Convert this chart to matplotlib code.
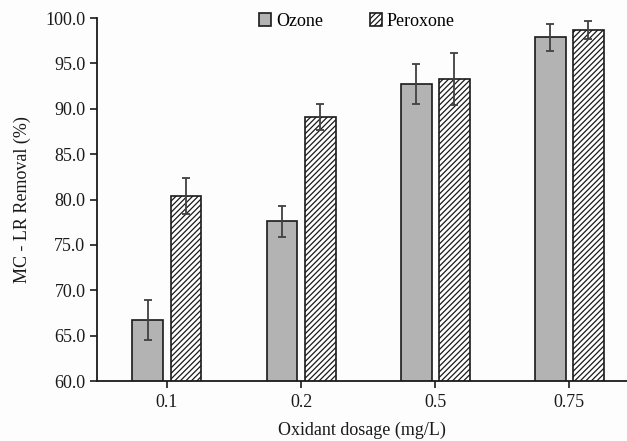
import numpy as np
import matplotlib
matplotlib.use('Agg')
from matplotlib import pyplot as plt

dosage = ['0.1', '0.2', '0.5', '0.75']
ozone = [66.7, 77.6, 92.7, 97.9]
ozone_err = [2.2, 1.7, 2.2, 1.5]
peroxone = [80.4, 89.1, 93.3, 98.7]
peroxone_err = [2.0, 1.4, 2.9, 1.0]

plt.rcParams['font.family'] = ['Liberation Serif', 'DejaVu Serif']
plt.rcParams['hatch.linewidth'] = 0.9

fig = plt.figure(figsize=(6.27, 4.41), dpi=100)
fig.patch.set_facecolor('#fdfdfd')
ax = fig.add_axes([0.155, 0.136, 0.845, 0.823])
ax.set_facecolor('#fdfdfd')

x = np.arange(len(dosage))
w = 0.23
err_kw = dict(ecolor='#404040', elinewidth=1.3, capsize=3, capthick=1.3)
ax.bar(x - 0.142, ozone, w, yerr=ozone_err, color='#b3b3b3',
       edgecolor='#1a1a1a', linewidth=1.2, label='Ozone', error_kw=err_kw, zorder=2)
ax.bar(x + 0.142, peroxone, w, yerr=peroxone_err, color='white', hatch='//////',
       edgecolor='#1a1a1a', linewidth=1.2, label='Peroxone', error_kw=err_kw, zorder=2)

ax.set_ylim(60, 100)
ticks = np.arange(60, 100.1, 5)
ax.set_yticks(ticks)
ax.set_yticklabels(['%.1f' % v for v in ticks])
ax.set_xlim(-0.52, 3.43)
ax.set_xticks(x)
ax.set_xticklabels(dosage)
ax.tick_params(labelsize=13, width=1.2, length=5, color='#1a1a1a', labelcolor='#1a1a1a')
ax.tick_params(axis='x', pad=4)

for s in ['top', 'right']:
    ax.spines[s].set_visible(False)
for s in ['left', 'bottom']:
    ax.spines[s].set_linewidth(1.3)
    ax.spines[s].set_color('#1a1a1a')

ax.set_ylabel('MC - LR Removal (%)', fontsize=13, color='#1a1a1a', labelpad=10)
ax.set_xlabel('Oxidant dosage (mg/L)', fontsize=13, color='#1a1a1a', labelpad=8)

ax.legend(loc='upper center', bbox_to_anchor=(0.49, 1.06), ncol=2, frameon=False,
          fontsize=13, handlelength=0.7, handleheight=0.7, handletextpad=0.25,
          columnspacing=2.6)

fig.savefig('out.png', dpi=100, facecolor=fig.get_facecolor())
